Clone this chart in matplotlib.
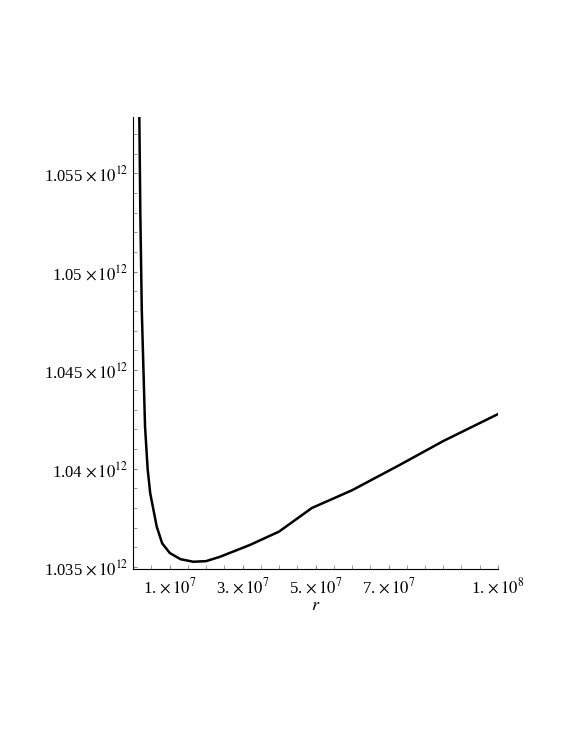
import matplotlib
matplotlib.use("Agg")
import matplotlib.pyplot as plt
from matplotlib.ticker import MultipleLocator

plt.rcParams['font.family'] = ['Liberation Serif', 'DejaVu Serif']
plt.rcParams['mathtext.fontset'] = 'stix'

r_vals = [1.73e6, 2.0e6, 2.4e6, 3.3e6, 4.0e6, 4.7e6, 6.5e6, 8.0e6, 10.1e6, 13e6,
          16.5e6, 20e6, 23.8e6, 32e6, 40e6, 49e6, 60e6, 73e6, 85e6, 1.0e8]
f_vals = [1.05786, 1.0530, 1.04805, 1.04212, 1.0400, 1.03876, 1.03705, 1.0362, 1.03571, 1.0354,
          1.03527, 1.0353, 1.03552, 1.03612, 1.0368, 1.0380, 1.0389, 1.04018, 1.0414, 1.04277]
f_vals = [v * 1e12 for v in f_vals]

xticks = [1e7, 3e7, 5e7, 7e7, 1e8]
xlabels = ["1. $\\times\\,10^{7}$", "3. $\\times\\,10^{7}$", "5. $\\times\\,10^{7}$",
           "7. $\\times\\,10^{7}$", "1. $\\times\\,10^{8}$"]
yticks = [1.035e12, 1.04e12, 1.045e12, 1.05e12, 1.055e12]
ylabels = ["1.035 $\\times\\,10^{12}$", "1.04 $\\times\\,10^{12}$", "1.045 $\\times\\,10^{12}$",
           "1.05 $\\times\\,10^{12}$", "1.055 $\\times\\,10^{12}$"]

fig = plt.figure(figsize=(5.67, 7.33), dpi=100)
ax = fig.add_axes([0.2346, 0.2237, 0.6437, 0.6167])
ax.plot(r_vals, f_vals, color='black', lw=1.8)
ax.set_xlim(0, 1e8)
ax.set_ylim(1.0349e12, 1.05786e12)
ax.spines['top'].set_visible(False)
ax.spines['right'].set_visible(False)
ax.set_xticks(xticks)
ax.set_xticklabels(xlabels, fontsize=12)
ax.set_yticks(yticks)
ax.set_yticklabels(ylabels, fontsize=12)
ax.xaxis.set_minor_locator(MultipleLocator(5e6))
ax.yaxis.set_minor_locator(MultipleLocator(1e9))
ax.tick_params(which='both', direction='in', length=3, color='#888888')
ax.tick_params(axis='x', pad=6)
ax.set_xlabel("$r$", fontsize=13, labelpad=0)
fig.savefig("out.png", dpi=100)
